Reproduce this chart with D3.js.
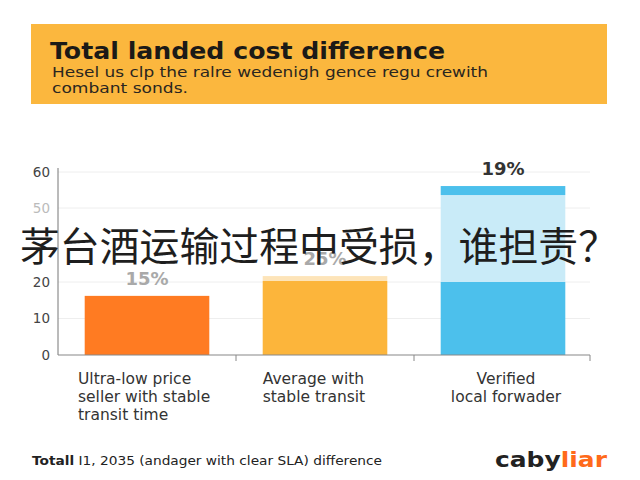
<!DOCTYPE html>
<html>
<head>
<meta charset="utf-8">
<script src="https://cdn.jsdelivr.net/npm/d3@7"></script>
<style>
  body { margin: 0; background: #fff; }
  svg { display: block; }
</style>
</head>
<body>
<div id="chart"></div>
<script>
// chart data
var categories = ['Ultra-low price', 'Average with', 'Verified'];
var categoryLines = [
  ['Ultra-low price', 'seller with stable', 'transit time'],
  ['Average with', 'stable transit'],
  ['Verified', 'local forwader']
];
var baseValues = [16.2, 20.4, 20];
var midValues = [0, 2, 33.6];
var capValues = [0, 0, 2.5];
var valueLabels = ['15%', '25%', '19%'];
// the picture's axis is not evenly spaced: 0,10,20 then 50,60
var yTickValues = [0, 10, 20, 50, 60];

var titleText = 'Total landed cost difference';
var subtitleLines = ['Hesel us clp the ralre wedenigh gence regu crewith', 'combant sonds.'];
var footerBold = 'Totall';
var footerText = ' I1, 2035 (andager with clear SLA) difference';
var overlayText = '茅台酒运输过程中受损，谁担责？';

var width = 640, height = 480;

var svg = d3.select('#chart').append('svg')
  .attr('width', width).attr('height', height);

// header box
svg.append('rect')
  .attr('x', 31).attr('y', 24).attr('width', 576).attr('height', 80)
  .attr('fill', '#fbb73e');

svg.append('text')
  .attr('x', 50).attr('y', 59)
  .attr('font-family', 'DejaVu Sans, sans-serif')
  .attr('font-weight', 'bold')
  .attr('font-size', 23)
  .attr('fill', '#1c1a17')
  .attr('textLength', 395).attr('lengthAdjust', 'spacingAndGlyphs')
  .text(titleText);

var subW = [436, 136];
svg.selectAll('.sub')
  .data(subtitleLines)
  .enter().append('text')
  .attr('class', 'sub')
  .attr('x', 52)
  .attr('y', function (d, i) { return 77 + i * 16; })
  .attr('font-family', 'DejaVu Sans, sans-serif')
  .attr('font-size', 13.5)
  .attr('fill', '#2a2620')
  .attr('textLength', function (d, i) { return subW[i]; })
  .attr('lengthAdjust', 'spacingAndGlyphs')
  .text(function (d) { return d; });

// scales
var x = d3.scaleBand()
  .domain(categories)
  .range([58, 592])
  .paddingInner(0.3)
  .paddingOuter(0.15);

var y = d3.scaleLinear()
  .domain([0, 20, 50, 60])
  .range([355, 282, 208, 172]);

// gridlines
svg.append('g')
  .selectAll('line')
  .data(yTickValues.slice(1))
  .enter().append('line')
  .attr('x1', 58).attr('x2', 590)
  .attr('y1', function (d) { return y(d); })
  .attr('y2', function (d) { return y(d); })
  .attr('stroke', '#eeeeee')
  .attr('stroke-width', 1);

// y axis
var yAxis = svg.append('g')
  .attr('transform', 'translate(58,0)')
  .call(d3.axisLeft(y).tickValues(yTickValues).tickSize(0).tickPadding(8));
yAxis.select('.domain').attr('stroke', '#777').attr('d', 'M0,168V355');
yAxis.selectAll('text')
  .attr('font-family', 'DejaVu Sans, sans-serif')
  .attr('font-size', 13.5)
  .attr('fill', function (d) { return d === 50 ? '#bbbbbb' : '#444'; });

// stacked bars
var rows = categories.map(function (c, i) {
  return { cat: c, base: baseValues[i], mid: midValues[i], cap: capValues[i] };
});
var stack = d3.stack().keys(['base', 'mid', 'cap']);
var layers = stack(rows);

var colors = {
  base: ['#ff7b22', '#fcb53b', '#4cc0ec'],
  mid: ['#ff7b22', '#fde4b9', '#c9ebf8'],
  cap: ['#ff7b22', '#fcb53b', '#4cc0ec']
};

svg.append('g')
  .selectAll('g')
  .data(layers)
  .enter().append('g')
  .selectAll('rect')
  .data(function (layer) {
    return layer.map(function (d, i) { return { key: layer.key, d: d, i: i }; });
  })
  .enter().append('rect')
  .attr('x', function (p) { return x(p.d.data.cat); })
  .attr('width', x.bandwidth())
  .attr('y', function (p) { return y(p.d[1]); })
  .attr('height', function (p) { return y(p.d[0]) - y(p.d[1]); })
  .attr('fill', function (p) { return colors[p.key][p.i]; });

// value labels
svg.append('g')
  .selectAll('text')
  .data(rows)
  .enter().append('text')
  .attr('x', function (d) { return x(d.cat) + x.bandwidth() / 2; })
  .attr('y', function (d) { return y(d.base + d.mid + d.cap) - 11; })
  .attr('text-anchor', 'middle')
  .attr('font-family', 'DejaVu Sans, sans-serif')
  .attr('font-weight', 'bold')
  .attr('font-size', 18)
  .attr('fill', function (d, i) { return i === 2 ? '#333' : '#a9a9a9'; })
  .text(function (d, i) { return valueLabels[i]; });

// x axis
var xAxisG = svg.append('g').attr('transform', 'translate(0,355)');
xAxisG.append('line')
  .attr('x1', 58).attr('x2', 590)
  .attr('stroke', '#888').attr('stroke-width', 1.2);
xAxisG.selectAll('.tk')
  .data(categories)
  .enter().append('line')
  .attr('class', 'tk')
  .attr('x1', function (c) { return Math.min(x(c) + x.step() - x.step() * 0.15, 590); })
  .attr('x2', function (c) { return Math.min(x(c) + x.step() - x.step() * 0.15, 590); })
  .attr('y1', 0).attr('y2', 6)
  .attr('stroke', '#888');

// category labels
var catG = svg.append('g')
  .selectAll('g')
  .data(categories)
  .enter().append('g');

catG.each(function (c, i) {
  var g = d3.select(this);
  var cx = x(c) + x.bandwidth() / 2;
  var texts = g.selectAll('text')
    .data(categoryLines[i])
    .enter().append('text')
    .attr('y', function (d, j) { return 384 + j * 18; })
    .attr('font-family', 'DejaVu Sans, sans-serif')
    .attr('font-size', 15.5)
    .attr('fill', '#333')
    .text(function (d) { return d; });
  if (i === 2) {
    texts.attr('x', cx + 3).attr('text-anchor', 'middle');
  } else {
    texts.attr('x', i === 0 ? 78 : x(c));
  }
});

// footer
var foot = svg.append('text')
  .attr('x', 32).attr('y', 465)
  .attr('font-family', 'DejaVu Sans, sans-serif')
  .attr('font-size', 13)
  .attr('fill', '#222')
  .attr('textLength', 350).attr('lengthAdjust', 'spacingAndGlyphs');
foot.append('tspan').attr('font-weight', 'bold').text(footerBold);
foot.append('tspan').text(footerText);

var logo = svg.append('text')
  .attr('x', 495).attr('y', 467)
  .attr('font-family', 'DejaVu Sans, sans-serif')
  .attr('font-weight', 'bold')
  .attr('font-size', 21)
  .attr('textLength', 112).attr('lengthAdjust', 'spacingAndGlyphs');
logo.append('tspan').attr('fill', '#222').text('caby');
logo.append('tspan').attr('fill', '#ff6a1a').text('liar');

// overlay caption
svg.append('text')
  .attr('x', 20).attr('y', 261)
  .attr('font-family', 'Noto Sans CJK SC, sans-serif')
  .attr('font-size', 40)
  .attr('fill', '#1e1e1e')
  .attr('textLength', 598).attr('lengthAdjust', 'spacingAndGlyphs')
  .text(overlayText);
</script>
</body>
</html>
